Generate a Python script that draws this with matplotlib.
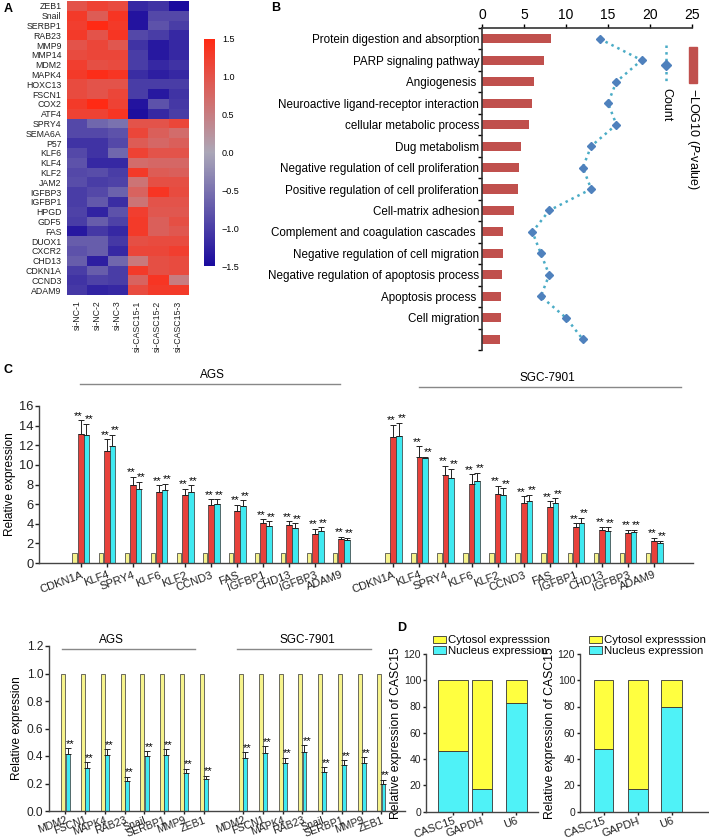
import matplotlib
matplotlib.use("Agg")
import matplotlib.pyplot as plt
import numpy as np
from matplotlib.colors import LinearSegmentedColormap
from matplotlib.lines import Line2D
from matplotlib.patches import Rectangle

plt.rcParams['font.family'] = ['Liberation Sans', 'DejaVu Sans']
NARROW = ['Liberation Sans Narrow', 'Liberation Sans', 'DejaVu Sans']

W, H = 709, 840

# ---------------- data: panel A (heatmap)
heat_genes = ["ZEB1", "Snail", "SERBP1", "RAB23", "MMP9", "MMP14", "MDM2", "MAPK4",
              "HOXC13", "FSCN1", "COX2", "ATF4", "SPRY4", "SEMA6A", "P57", "KLF6",
              "KLF4", "KLF2", "JAM2", "IGFBP3", "IGFBP1", "HPGD", "GDF5", "FAS",
              "DUOX1", "CXCR2", "CHD13", "CDKN1A", "CCND3", "ADAM9"]
heat_samples = ["si-NC-1", "si-NC-2", "si-NC-3",
                "si-CASC15-1", "si-CASC15-2", "si-CASC15-3"]
heat_values = np.array([
    [1.00, 1.20, 1.10, -1.20, -1.10, -1.50],
    [1.30, 0.90, 1.35, -1.40, -0.90, -0.90],
    [1.25, 1.50, 1.30, -1.40, -0.80, -1.00],
    [1.30, 1.00, 1.35, -0.90, -1.00, -1.20],
    [1.00, 1.15, 0.95, -1.10, -1.35, -1.20],
    [1.10, 1.15, 1.15, -1.00, -1.35, -1.20],
    [1.25, 1.05, 1.10, -1.00, -1.20, -1.10],
    [1.30, 1.45, 1.35, -1.15, -1.30, -1.20],
    [1.10, 1.00, 1.00, -1.00, -1.00, -1.00],
    [1.10, 1.00, 1.15, -1.00, -1.35, -1.10],
    [1.30, 1.50, 1.20, -1.40, -0.80, -1.05],
    [1.20, 1.20, 1.35, -1.45, -1.20, -1.00],
    [-0.90, -0.60, -0.50, 1.00, 1.00, 1.15],
    [-0.90, -0.90, -0.80, 1.15, 0.85, 0.70],
    [-1.10, -1.10, -0.90, 0.90, 0.75, 0.85],
    [-0.90, -1.10, -0.60, 1.20, 1.00, 1.00],
    [-0.80, -1.20, -1.20, 0.70, 0.75, 0.75],
    [-0.90, -0.85, -1.00, 1.30, 0.90, 0.85],
    [-0.85, -1.00, -0.95, 0.60, 1.05, 1.05],
    [-1.00, -0.90, -0.65, 0.80, 1.35, 1.10],
    [-1.00, -0.75, -1.15, 0.60, 1.00, 1.00],
    [-0.95, -1.25, -0.80, 1.25, 0.95, 0.95],
    [-1.00, -0.70, -0.95, 1.30, 0.85, 1.05],
    [-1.35, -1.05, -1.20, 1.30, 0.85, 0.95],
    [-0.70, -0.70, -1.05, 1.05, 1.10, 1.10],
    [-0.80, -0.70, -1.20, 1.15, 1.15, 1.25],
    [-0.70, -1.30, -0.60, 0.55, 1.05, 1.10],
    [-1.00, -0.70, -1.00, 1.30, 1.05, 1.10],
    [-1.10, -0.95, -1.00, 0.80, 1.35, 0.50],
    [-1.05, -1.25, -1.20, 1.10, 1.30, 1.30],
])

# ---------------- data: panel B (GO / KEGG enrichment)
go_terms = ["Protein digestion and absorption", "PARP signaling pathway", "Angiogenesis ",
            "Neuroactive ligand-receptor interaction", "cellular metabolic process",
            "Dug metabolism", "Negative regulation of cell proliferation",
            "Positive regulation of cell proliferation", "Cell-matrix adhesion",
            "Complement and coagulation cascades ", "Negative regulation of cell migration",
            "Negative regulation of apoptosis process", "Apoptosis process ",
            "Cell migration", ""]
go_logp = [8.2, 7.4, 6.2, 5.9, 5.6, 4.6, 4.4, 4.3, 3.85, 2.5, 2.45, 2.35, 2.3, 2.3, 2.1]
go_count = [14, 19, 16, 15, 16, 13, 12, 13, 8, 6, 7, 8, 7, 10, 12]

# ---------------- data: panel C top (up-regulated genes)
up_genes = ["CDKN1A", "KLF4", "SPRY4", "KLF6", "KLF2", "CCND3", "FAS",
            "IGFBP1", "CHD13", "IGFBP3", "ADAM9"]
up_ags_si1 = [13.15, 11.4, 7.95, 7.2, 6.95, 5.93, 5.35, 4.07, 3.86, 2.98, 2.44]
up_ags_si1_err = [1.4, 1.2, 0.85, 0.7, 0.6, 0.57, 0.58, 0.37, 0.38, 0.48, 0.26]
up_ags_si2 = [13.0, 11.9, 7.55, 7.4, 7.2, 6.03, 5.83, 3.8, 3.56, 3.22, 2.3]
up_ags_si2_err = [1.2, 1.15, 0.75, 0.65, 0.7, 0.47, 0.54, 0.44, 0.47, 0.41, 0.24]
up_sgc_si1 = [12.8, 10.8, 8.95, 8.1, 7.05, 6.1, 5.73, 3.66, 3.36, 3.05, 2.24]
up_sgc_si1_err = [1.3, 1.1, 0.95, 0.95, 0.8, 0.7, 0.54, 0.37, 0.34, 0.34, 0.3]
up_sgc_si2 = [12.9, 10.7, 8.7, 8.35, 6.95, 6.27, 6.07, 4.03, 3.29, 3.12, 2.03]
up_sgc_si2_err = [1.4, 0.1, 0.9, 0.85, 0.65, 0.68, 0.53, 0.55, 0.34, 0.27, 0.24]

# ---------------- data: panel C bottom (down-regulated genes)
down_genes = ["MDM2", "FSCN1", "MAPK4", "RAB23", "Snail", "SERBP1", "MMP9", "ZEB1"]
down_ags = [0.416, 0.316, 0.404, 0.219, 0.397, 0.404, 0.275, 0.234]
down_ags_err = [0.041, 0.039, 0.046, 0.031, 0.036, 0.046, 0.032, 0.021]
down_sgc = [0.389, 0.423, 0.35, 0.428, 0.285, 0.333, 0.35, 0.195]
down_sgc_err = [0.037, 0.047, 0.039, 0.049, 0.034, 0.037, 0.04, 0.031]

# ---------------- data: panel D (subcellular fractions)
frac_genes = ["CASC15", "GAPDH", "U6"]
frac_nucleus_ags = [46.3, 17.5, 82.4]
frac_nucleus_sgc = [47.6, 16.8, 79.4]

YELLOW = "#f6f38c"
RED = "#e8413b"
CYAN = "#3fe9f1"
EDGE = "#333333"

fig = plt.figure(figsize=(W / 100, H / 100), dpi=100)


def px_axes(left, top, right, bottom):
    return fig.add_axes([left / W, 1 - bottom / H, (right - left) / W, (bottom - top) / H])


def fx(x):
    return x / W


def fy(y):
    return 1 - y / H


def style_axes(ax):
    ax.spines['top'].set_visible(False)
    ax.spines['right'].set_visible(False)
    for s in ('left', 'bottom'):
        ax.spines[s].set_color('#444444')
        ax.spines[s].set_linewidth(1.0)
    ax.tick_params(colors='#222222', width=1.0, length=3)


# ================= Panel A
cmap = LinearSegmentedColormap.from_list(
    "bgr", [(0.0, "#1a0a9e"), (0.5, "#aba7b8"), (1.0, "#ff2a14")])
ax_a = px_axes(67, 1, 188, 295)
im = ax_a.imshow(heat_values, cmap=cmap, vmin=-1.5, vmax=1.5, aspect='auto',
                 interpolation='nearest')
ax_a.set_yticks(np.arange(len(heat_genes)), labels=heat_genes, fontsize=6.3, color='#222222')
ax_a.set_xticks(np.arange(len(heat_samples)), labels=heat_samples, fontsize=6.3,
                rotation=90, color='#222222')
ax_a.tick_params(length=0, pad=4)
for s in ax_a.spines.values():
    s.set_visible(False)

cax = px_axes(204, 39, 215, 266)
cb = fig.colorbar(im, cax=cax, ticks=[1.5, 1.0, 0.5, 0.0, -0.5, -1.0, -1.5])
cb.outline.set_visible(False)
cb.ax.tick_params(length=0, labelsize=6.5, pad=5)
cb.ax.set_yticklabels(["1.5", "1.0", "0.5", "0.0", "\u22120.5", "\u22121.0", "\u22121.5"])

fig.text(fx(4), fy(3), "A", fontsize=9, fontweight='bold', va='top')

# ================= Panel B
ax_b = px_axes(482, 28, 692, 350)
ypos = np.arange(len(go_terms))
ax_b.barh(ypos, go_logp, height=0.42, color="#c0504d")
ax_b.plot(go_count, ypos, linestyle=':', color="#4bacc6", lw=1.8,
          marker='D', ms=4, mfc="#4f81bd", mec="#4f81bd")
ax_b.set_xlim(0, 25)
ax_b.set_ylim(len(go_terms) - 0.5, -0.5)
ax_b.xaxis.tick_top()
ax_b.set_xticks([0, 5, 10, 15, 20, 25])
ax_b.tick_params(axis='x', labelsize=10, length=3, width=1.0, pad=1)
ax_b.set_yticks(ypos, labels=go_terms, fontsize=8.4)
ax_b.set_yticks(np.arange(-0.5, len(go_terms), 1), minor=True)
ax_b.tick_params(axis='y', which='major', length=0, pad=2)
ax_b.tick_params(axis='y', which='minor', length=3, width=1.0)
ax_b.spines['right'].set_visible(False)
ax_b.spines['bottom'].set_visible(False)
ax_b.spines['left'].set_linewidth(1.2)
ax_b.spines['top'].set_linewidth(1.2)
ax_b.spines['left'].set_color('#333333')
ax_b.spines['top'].set_color('#333333')

# legend for B (vertical, right side)
fig.add_artist(Line2D([fx(666), fx(666)], [fy(45), fy(82)], transform=fig.transFigure,
                      linestyle=':', color="#4bacc6", lw=1.8))
fig.add_artist(Line2D([fx(666)], [fy(65)], transform=fig.transFigure, marker='D', ms=5,
                      mfc="#4f81bd", mec="#4f81bd", linestyle='none'))
fig.text(fx(666), fy(88), "Count", rotation=-90, fontsize=9, ha='center', va='top')
fig.add_artist(Rectangle((fx(689), fy(83)), fx(8), (83 - 47) / H, transform=fig.transFigure,
                         color="#c0504d"))
fig.text(fx(693), fy(88), "\u2212LOG10 ($\\it{P}$-value)", rotation=-90, fontsize=9,
         ha='center', va='top')
fig.text(fx(271), fy(2), "B", fontsize=9, fontweight='bold', va='top')

# ================= Panel C top
ax_c = px_axes(39, 406, 693, 563)
style_axes(ax_c)
pos_ags = np.arange(len(up_genes))
pos_sgc = pos_ags + 12
err_kw = dict(ecolor='#222222', capsize=2.2, elinewidth=0.7, capthick=0.7)
for pos, r, re, c, ce in [(pos_ags, up_ags_si1, up_ags_si1_err, up_ags_si2, up_ags_si2_err),
                          (pos_sgc, up_sgc_si1, up_sgc_si1_err, up_sgc_si2, up_sgc_si2_err)]:
    n = len(pos)
    ax_c.bar(pos - 0.23, np.ones(n), width=0.17, color=YELLOW, edgecolor=EDGE, lw=0.5)
    ax_c.bar(pos, r, width=0.22, color=RED, edgecolor=EDGE, lw=0.5,
             yerr=[np.zeros(n), re], error_kw=err_kw)
    ax_c.bar(pos + 0.22, c, width=0.22, color=CYAN, edgecolor=EDGE, lw=0.5,
             yerr=[np.zeros(n), ce], error_kw=err_kw)
    for i in range(n):
        ax_c.text(pos[i] - 0.08, r[i] + re[i] - 0.05, "**", fontsize=8, ha='center', va='bottom')
        ax_c.text(pos[i] + 0.32, c[i] + ce[i] - 0.05, "**", fontsize=8, ha='center', va='bottom')
ax_c.set_xlim(-1.6, 23.5)
ax_c.set_ylim(0, 16)
ax_c.set_yticks(np.arange(0, 17, 2))
ax_c.tick_params(axis='y', labelsize=9.3, pad=1)
ax_c.set_xticks(np.concatenate([pos_ags, pos_sgc]), labels=up_genes + up_genes,
                rotation=20, ha='right', rotation_mode='anchor', fontsize=8)
ax_c.tick_params(axis='x', pad=2)
ax_c.set_ylabel("Relative expression", fontsize=8.6, labelpad=2)
ax_c.plot([-0.04, 9.96], [18.25, 18.25], color='#888888', lw=1, clip_on=False)
ax_c.text(5.04, 19.2, "AGS", fontsize=8.5, ha='center', va='center')
ax_c.plot([13.0, 23.04], [17.95, 17.95], color='#888888', lw=1, clip_on=False)
ax_c.text(17.9, 18.9, "SGC-7901", fontsize=8.5, ha='center', va='center')
fig.text(fx(4), fy(364), "C", fontsize=9, fontweight='bold', va='top')

# ================= Panel C bottom
ax_c2 = px_axes(49, 646, 405, 811)
style_axes(ax_c2)
pos_ags2 = np.arange(len(down_genes))
pos_sgc2 = pos_ags2 + 9
for pos, v, e in [(pos_ags2, down_ags, down_ags_err), (pos_sgc2, down_sgc, down_sgc_err)]:
    n = len(pos)
    ax_c2.bar(pos, np.ones(n), width=0.2, color=YELLOW, edgecolor=EDGE, lw=0.5)
    ax_c2.bar(pos + 0.21, v, width=0.2, color=CYAN, edgecolor=EDGE, lw=0.5,
              yerr=[np.zeros(n), e], error_kw=err_kw)
    for i in range(n):
        ax_c2.text(pos[i] + 0.32, v[i] + e[i] - 0.004, "**", fontsize=8, ha='center', va='bottom')
ax_c2.set_xlim(-0.73, 17.3)
ax_c2.set_ylim(0, 1.2)
ax_c2.set_yticks(np.arange(0, 1.21, 0.2))
ax_c2.set_yticklabels([f"{v:.1f}" for v in np.arange(0, 1.21, 0.2)])
ax_c2.tick_params(axis='y', labelsize=8.6, pad=1)
ax_c2.set_xticks(np.concatenate([pos_ags2, pos_sgc2]) + 0.1, labels=down_genes + down_genes,
                 rotation=20, ha='right', rotation_mode='anchor', fontsize=7.6)
ax_c2.tick_params(axis='x', pad=1, length=2)
ax_c2.set_ylabel("Relative expression", fontsize=8.6, labelpad=3)
ax_c2.plot([-0.07, 6.68], [1.18, 1.18], color='#888888', lw=1, clip_on=False)
ax_c2.text(2.43, 1.246, "AGS", fontsize=8.5, ha='center', va='center')
ax_c2.plot([8.81, 15.56], [1.18, 1.18], color='#888888', lw=1, clip_on=False)
ax_c2.text(12.37, 1.246, "SGC-7901", fontsize=8.5, ha='center', va='center')

# ================= Panel D
frac_pos = np.arange(len(frac_genes))
for (l, r), nucleus, widths, xl, legx in [
        ((426, 538), frac_nucleus_ags, [0.89, 0.6, 0.61], (-0.364, 2.95), 433),
        ((580, 708), frac_nucleus_sgc, [0.57, 0.6, 0.62], (-0.43, 3.4), 589)]:
    ax_d = px_axes(l, 654, r, 811.5)
    style_axes(ax_d)
    nucleus = np.array(nucleus)
    ax_d.bar(frac_pos, nucleus, width=widths, align='edge', color="#4ff2f7",
             edgecolor=EDGE, lw=0.6, label="Nucleus expression")
    ax_d.bar(frac_pos, 100 - nucleus, bottom=nucleus, width=widths, align='edge',
             color="#ffff40", edgecolor=EDGE, lw=0.6, label="Cytosol expresssion")
    ax_d.set_xlim(*xl)
    ax_d.set_ylim(0, 120)
    ax_d.set_yticks(np.arange(0, 121, 20))
    for t in ax_d.get_yticklabels():
        t.set_family(NARROW)
        t.set_fontsize(7.5)
    ax_d.tick_params(axis='y', pad=1, length=2.5)
    ax_d.set_xticks(frac_pos + np.array(widths) / 2, labels=frac_genes, rotation=20,
                    ha='right', rotation_mode='anchor', fontsize=8)
    ax_d.tick_params(axis='x', length=2, pad=1)
    ax_d.set_ylabel("Relative expression of CASC15", fontsize=8.8, labelpad=1)
    h, lab = ax_d.get_legend_handles_labels()
    ax_d.legend(h[::-1], lab[::-1], loc='lower left',
                bbox_to_anchor=(fx(legx), fy(656)), bbox_transform=fig.transFigure,
                frameon=False, fontsize=8.2, handlelength=1.1, handleheight=0.6,
                labelspacing=0.05, borderpad=0, borderaxespad=0, handletextpad=0.25)
fig.text(fx(397), fy(622), "D", fontsize=9, fontweight='bold', va='top')

fig.savefig("out.png", dpi=100, facecolor='white')
